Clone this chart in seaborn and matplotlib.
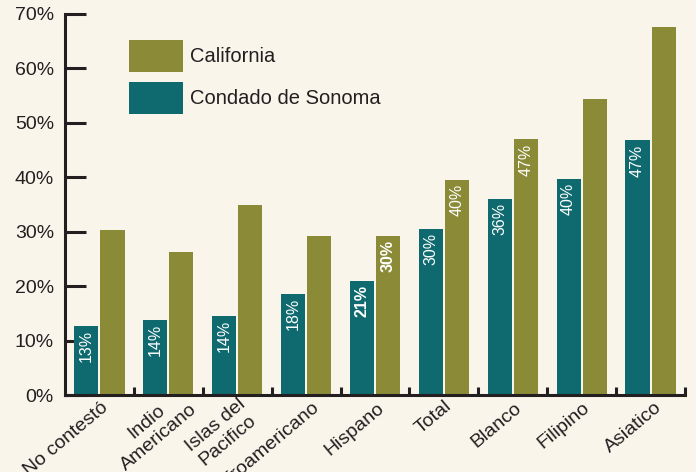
import matplotlib
matplotlib.use("Agg")
import matplotlib.pyplot as plt
import matplotlib.transforms as mtransforms
from matplotlib.patches import Patch
import seaborn as sns
import pandas as pd

# ---------------- data ----------------
categories = ["No contestó", "Indio\nAmericano", "Islas del\nPacifico", "Afroamericano",
              "Hispano", "Total", "Blanco", "Filipino", "Asiatico"]
sonoma = [12.7, 13.8, 14.5, 18.6, 20.9, 30.5, 36.0, 39.7, 46.8]
california = [30.3, 26.3, 34.9, 29.2, 29.2, 39.5, 47.0, 54.4, 67.6]
sonoma_labels = ["13%", "14%", "14%", "18%", "21%", "30%", "36%", "40%", "47%"]
california_labels = ["", "", "", "", "30%", "40%", "47%", "", ""]
bold_category = "Hispano"
series_names = ["Condado de Sonoma", "California"]
legend_order = ["California", "Condado de Sonoma"]
y_ticks = [0, 10, 20, 30, 40, 50, 60, 70]
y_tick_labels = ["0%", "10%", "20%", "30%", "40%", "50%", "60%", "70%"]

# ---------------- style ----------------
BG = "#f9f5ea"
TEAL = "#0f6a70"
OLIVE = "#8b8a37"
TXT = "#231f20"
colors = {"Condado de Sonoma": TEAL, "California": OLIVE}
# per-label nudges of the slanted category labels (pixels: right, up)
label_nudges = [(7, -8), (20, -2), (12, -12), (12, -8), (7, -8), (6, -6), (7, -8), (6, -8), (9, -8)]

sns.set_theme(style="white")
plt.rcParams["font.family"] = ["Liberation Sans", "DejaVu Sans"]

df = pd.DataFrame({
    "cat": categories * 2,
    "series": [series_names[0]] * len(categories) + [series_names[1]] * len(categories),
    "val": sonoma + california,
})

fig = plt.figure(figsize=(6.96, 4.72), dpi=100, facecolor=BG)
ax = fig.add_axes([65 / 696, 77 / 472, 620 / 696, 381 / 472])
ax.set_facecolor(BG)

sns.barplot(data=df, x="cat", y="val", hue="series", hue_order=series_names,
            order=categories, palette=colors, width=0.76, gap=0.08,
            saturation=1, errorbar=None, legend=False, linewidth=0, ax=ax)

# value labels inside bars
for container, labels in zip(ax.containers, [sonoma_labels, california_labels]):
    for bar, lab, cat in zip(container, labels, categories):
        if not lab:
            continue
        ax.annotate(lab, (bar.get_x() + bar.get_width() / 2, bar.get_height()),
                    xytext=(0, -3), textcoords="offset points", rotation=90,
                    ha="center", va="top", color="white", fontsize=11.5,
                    fontweight="bold" if cat == bold_category else "normal")

# axes
ax.set_xlim(-0.5, len(categories) - 0.5)
ax.set_ylim(0, 70)
ax.set_yticks(y_ticks)
ax.set_yticklabels(y_tick_labels)
ax.set_xlabel("")
ax.set_ylabel("")
ax.tick_params(axis="y", direction="in", length=15, width=2.2, color=TXT,
               labelsize=14, labelcolor=TXT, pad=8, left=True)
ax.set_xticks(range(len(categories)))
ax.set_xticks([i + 0.5 for i in range(len(categories))], minor=True)
ax.tick_params(axis="x", which="major", length=0, labelsize=14, labelcolor=TXT, pad=2)
ax.tick_params(axis="x", which="minor", direction="in", length=6, width=2.2, color=TXT, bottom=True)
ax.set_xticklabels(categories, rotation=40, ha="right", va="center",
                   rotation_mode="anchor", multialignment="center")
for lab, (dx, dy) in zip(ax.get_xticklabels(), label_nudges):
    lab.set_transform(lab.get_transform() +
                      mtransforms.ScaledTranslation(dx / 100, dy / 100, fig.dpi_scale_trans))

for side in ["top", "right"]:
    ax.spines[side].set_visible(False)
for side in ["left", "bottom"]:
    ax.spines[side].set_linewidth(2.2)
    ax.spines[side].set_color(TXT)

handles = [Patch(facecolor=colors[n], edgecolor="none", label=n) for n in legend_order]
leg = ax.legend(handles=handles, loc="upper left", bbox_to_anchor=(0.103, 0.932),
                frameon=False, fontsize=14.5, handlelength=2.68, handleheight=2.07,
                handletextpad=0.35, labelspacing=0.5, borderpad=0, borderaxespad=0)
for t in leg.get_texts():
    t.set_color(TXT)

fig.savefig("out.png", dpi=100, facecolor=BG)
